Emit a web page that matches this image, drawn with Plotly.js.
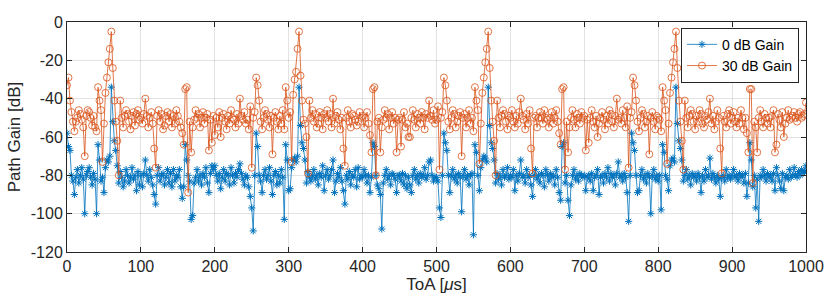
<!DOCTYPE html>
<html>
<head>
<meta charset="utf-8">
<script src="https://cdn.plot.ly/plotly-3.0.1.min.js"></script>
<style>
html,body{margin:0;padding:0;background:#fff;}
#chart{width:830px;height:302px;}
</style>
</head>
<body>
<div id="chart"></div>
<script>
// Sample spacing of the ToA axis (microseconds)
const toaStepUs = 2;

// Path gain [dB], 0 dB receiver gain (one value per 2 µs, 0..1000 µs)
const gain0dB = [
-58,-65,-67,-80,-83,-90,-81,-77,-84,-80,-76,-82,-100,-80,-78,-76,-81,-85,-79,-82,-100,-64,-72,-83,-81,
-89,-76,-72,-73,-70,-34,-52,-62,-67,-75,-84,-78,-81,-86,-83,-77,-80,-84,-81,-76,-82,-80,-88,-78,-85,
-80,-86,-79,-72,-80,-83,-77,-81,-85,-90,-95,-80,-76,-83,-80,-79,-85,-81,-77,-84,-79,-86,-77,-83,-80,
-81,-77,-86,-92,-86,-64,-72,-80,-83,-103,-101,-84,-81,-77,-83,-80,-85,-79,-81,-76,-84,-89,-79,-75,-77,
-75,-80,-83,-79,-87,-81,-77,-83,-79,-80,-85,-76,-80,-84,-79,-81,-77,-74,-79,-82,-85,-80,-81,-86,-91,
-97,-109,-80,-58,-65,-80,-83,-89,-80,-77,-82,-80,-76,-83,-90,-80,-78,-85,-80,-84,-77,-81,-103,-64,-72,
-88,-87,-76,-72,-71,-73,-70,-34,-54,-63,-66,-72,-84,-78,-81,-83,-80,-77,-82,-80,-85,-79,-81,-75,-88,
-80,-77,-82,-80,-77,-72,-89,-83,-79,-81,-76,-83,-88,-95,-80,-82,-78,-85,-80,-81,-77,-86,-76,-82,-80,
-81,-77,-80,-84,-80,-89,-81,-63,-65,-80,-85,-87,-90,-108,-84,-80,-77,-82,-80,-85,-79,-80,-82,-89,-80,
-80,-83,-79,-85,-80,-87,-81,-85,-89,-80,-77,-82,-80,-84,-79,-81,-80,-76,-82,-80,-73,-72,-80,-83,-81,
-81,-83,-97,-102,-80,-58,-63,-67,-80,-89,-80,-77,-82,-80,-84,-79,-81,-99,-80,-77,-82,-80,-85,-80,-79,
-111,-64,-68,-80,-88,-76,-72,-70,-71,-73,-34,-54,-63,-66,-72,-84,-79,-82,-80,-85,-77,-81,-80,-76,-82,
-80,-81,-77,-88,-80,-83,-79,-72,-81,-80,-84,-77,-81,-80,-85,-91,-80,-77,-82,-80,-84,-79,-80,-86,-77,
-80,-83,-79,-81,-80,-85,-77,-81,-89,-93,-65,-63,-84,-80,-93,-101,-85,-80,-77,-82,-80,-83,-79,-80,-81,
-80,-88,-81,-80,-83,-79,-88,-81,-80,-77,-90,-81,-80,-84,-79,-81,-76,-83,-79,-81,-80,-85,-79,-73,-81,
-80,-83,-79,-81,-89,-104,-80,-58,-63,-67,-80,-89,-88,-80,-77,-82,-80,-84,-79,-81,-100,-80,-77,-82,-80,
-83,-80,-98,-64,-68,-80,-82,-88,-75,-72,-71,-73,-34,-53,-62,-66,-72,-83,-80,-77,-82,-80,-85,-79,-81,
-80,-83,-79,-81,-89,-80,-83,-77,-81,-80,-71,-82,-79,-81,-84,-80,-82,-91,-81,-80,-83,-77,-81,-80,-82,
-80,-77,-81,-80,-83,-79,-81,-80,-84,-79,-91,-84,-63,-72,-86,-80,-97,-82,-104,-80,-81,-77,-80,-83,-79,
-81,-80,-83,-79,-88,-76,-80,-83,-87,-79,-88,-81,-80,-82,-77,-81,-80,-76,-80,-81,-78,-80,-77,-79,-78,
-75
];

// Path gain [dB], 30 dB receiver gain
const gain30dB = [
-33,-29,-41,-47,-52,-57,-52,-50,-46,-48,-51,-55,-70,-49,-46,-47,-50,-54,-49,-55,-57,-34,-41,-46,-73,
-53,-37,-29,-21,-14,-5,-24,-41,-52,-62,-80,-41,-50,-55,-49,-46,-48,-52,-56,-49,-47,-54,-48,-46,-51,
-50,-53,-48,-40,-49,-55,-50,-47,-53,-66,-76,-49,-46,-52,-48,-56,-54,-49,-47,-52,-48,-55,-49,-53,-46,
-49,-52,-55,-58,-64,-35,-34,-89,-52,-68,-55,-51,-46,-50,-48,-55,-50,-47,-53,-50,-48,-67,-51,-63,-49,
-59,-50,-55,-47,-60,-50,-48,-52,-56,-49,-53,-46,-50,-51,-55,-48,-53,-40,-49,-51,-47,-53,-51,-56,-44,
-76,-50,-47,-29,-33,-41,-52,-56,-50,-46,-48,-51,-55,-49,-69,-50,-47,-52,-56,-49,-53,-46,-56,-34,-41,
-50,-47,-73,-38,-30,-26,-14,-5,-28,-41,-51,-53,-60,-79,-41,-50,-46,-52,-48,-55,-53,-47,-50,-56,-48,
-50,-46,-52,-48,-55,-40,-53,-49,-47,-51,-56,-50,-66,-75,-50,-46,-52,-55,-48,-49,-51,-54,-52,-47,-50,
-49,-55,-50,-47,-53,-59,-68,-35,-34,-80,-52,-50,-68,-55,-51,-46,-50,-48,-56,-50,-47,-53,-50,-68,-51,
-50,-65,-51,-47,-55,-53,-60,-60,-50,-46,-51,-55,-48,-50,-53,-47,-50,-56,-48,-50,-41,-49,-51,-46,-53,
-51,-44,-77,-50,-47,-29,-33,-41,-52,-56,-50,-46,-48,-55,-52,-49,-47,-70,-50,-48,-55,-50,-46,-53,-50,
-57,-34,-41,-46,-74,-53,-37,-29,-21,-14,-5,-24,-41,-52,-62,-80,-41,-50,-55,-49,-46,-48,-52,-56,-49,
-50,-46,-52,-55,-49,-53,-47,-40,-49,-51,-56,-48,-53,-46,-66,-79,-50,-49,-55,-50,-47,-50,-53,-46,-50,
-51,-55,-50,-47,-53,-50,-46,-52,-58,-64,-35,-34,-77,-52,-68,-55,-50,-46,-51,-55,-48,-50,-53,-47,-50,
-49,-67,-51,-63,-50,-46,-52,-55,-49,-60,-53,-50,-47,-51,-56,-49,-53,-46,-48,-52,-55,-49,-40,-51,-50,
-53,-46,-50,-55,-44,-76,-50,-47,-29,-33,-41,-52,-57,-50,-46,-48,-55,-52,-49,-69,-50,-47,-52,-56,-49,
-50,-51,-57,-34,-41,-46,-74,-53,-37,-29,-21,-14,-5,-24,-41,-52,-62,-77,-41,-50,-55,-49,-46,-48,-52,
-56,-49,-52,-46,-48,-53,-55,-49,-51,-47,-40,-53,-49,-56,-52,-46,-50,-66,-79,-49,-52,-55,-48,-46,-53,
-50,-47,-52,-55,-50,-53,-46,-50,-56,-50,-58,-68,-35,-35,-84,-52,-55,-68,-50,-46,-52,-55,-48,-50,-53,
-50,-55,-49,-46,-68,-64,-48,-51,-55,-47,-60,-53,-50,-46,-51,-50,-49,-47,-50,-52,-48,-47,-50,-49,-48,
-42
];

const seriesNames = ['0 dB Gain', '30 dB Gain'];
const xTickVals = [0,100,200,300,400,500,600,700,800,900,1000];
const xTickText = ['0','100','200','300','400','500','600','700','800','900','1000'];
const yTickVals = [-120,-100,-80,-60,-40,-20,0];
const yTickText = ['-120','-100','-80','-60','-40','-20','0'];

const toa = gain0dB.map((_, i) => i * toaStepUs);

const axisCol = '#262626';
const gridCol = 'rgba(38,38,38,0.13)';
const fontFam = 'Liberation Sans, Arial, Helvetica, sans-serif';

const traces = [
  {
    x: toa, y: gain0dB, name: seriesNames[0], type: 'scatter', mode: 'lines+markers',
    line: {color: '#0072BD', width: 0.8},
    marker: {symbol: 'asterisk-open', size: 6, color: '#0072BD', line: {color: '#0072BD', width: 1}}
  },
  {
    x: toa, y: gain30dB, name: seriesNames[1], type: 'scatter', mode: 'lines+markers',
    line: {color: '#D95319', width: 0.8},
    marker: {symbol: 'circle-open', size: 7, color: '#D95319', line: {color: '#D95319', width: 0.8}}
  }
];

const layout = {
  width: 830, height: 302,
  margin: {l: 67, r: 24, t: 22, b: 50, pad: 0},
  paper_bgcolor: '#fff', plot_bgcolor: '#fff',
  font: {family: fontFam, size: 16, color: axisCol},
  showlegend: true,
  legend: {
    x: 0.9905, xanchor: 'right', y: 0.975, yanchor: 'top',
    bgcolor: '#fff', bordercolor: axisCol, borderwidth: 1,
    font: {family: fontFam, size: 14, color: '#000'},
    tracegroupgap: 0, itemwidth: 30
  },
  xaxis: {
    range: [0, 1000], tickmode: 'array', tickvals: xTickVals, ticktext: xTickText,
    ticks: 'inside', ticklen: 5, tickcolor: axisCol, tickwidth: 1,
    showline: true, linecolor: axisCol, linewidth: 1, mirror: 'ticks',
    showgrid: true, gridcolor: gridCol, gridwidth: 1, zeroline: false,
    tickfont: {size: 16, color: axisCol},
    title: {text: 'ToA [<i>μ</i>s]', font: {size: 17, color: axisCol}, standoff: 3}
  },
  yaxis: {
    range: [-120, 0], tickmode: 'array', tickvals: yTickVals, ticktext: yTickText,
    ticks: 'inside', ticklen: 5, tickcolor: axisCol, tickwidth: 1,
    showline: true, linecolor: axisCol, linewidth: 1, mirror: 'ticks',
    showgrid: true, gridcolor: gridCol, gridwidth: 1, zeroline: false,
    tickfont: {size: 16, color: axisCol},
    title: {text: 'Path Gain [dB]', font: {size: 17, color: axisCol}, standoff: 5}
  }
};

Plotly.newPlot('chart', traces, layout, {displayModeBar: false, staticPlot: true});
</script>
</body>
</html>
